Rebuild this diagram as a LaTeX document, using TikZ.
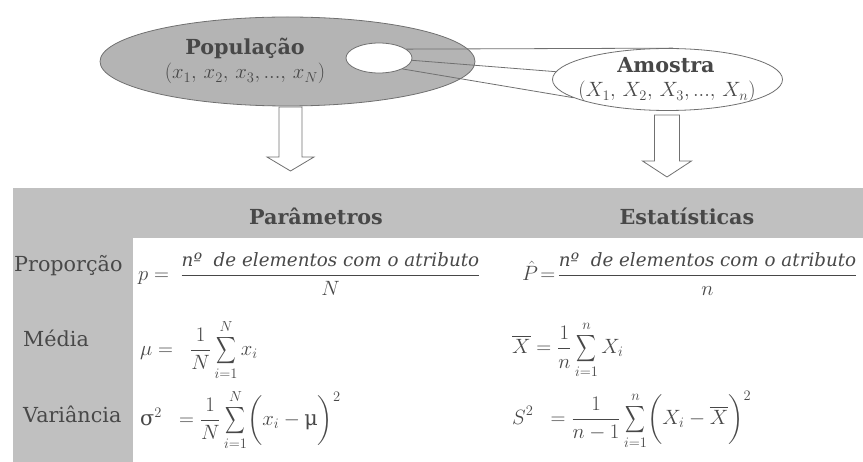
\RequirePackage{fix-cm}
\documentclass[tikz,border=0pt]{standalone}
\usepackage{amsmath}
\usepackage{exscale}
\usepackage{graphicx}
\usepackage{fontspec}
\setmainfont{DejaVu Serif}
\usetikzlibrary{shapes.geometric}
\definecolor{popfill}{RGB}{180,180,180}
\definecolor{tabfill}{RGB}{192,192,192}
\definecolor{ink}{RGB}{72,72,72}
\definecolor{edge}{RGB}{112,112,112}
\newcommand{\numtext}{\mbox{\fontsize{18.3}{22}\selectfont\itshape nº\ \ de elementos com o atributo}}
\newcommand{\bsum}{\mathop{\vcenter{\hbox{\scalebox{0.66}[0.9]{$\displaystyle\sum$}}}}\limits}
\begin{document}
\begin{tikzpicture}[x=1pt,y=-1pt,
  every node/.style={text=ink, font=\fontsize{20.7}{25}\selectfont, inner sep=0pt},
  ell/.style={ellipse, draw=edge, line width=0.8pt, inner sep=0pt},
  conn/.style={draw=edge, line width=0.8pt},
  blockarr/.style={draw=edge, fill=white, line width=0.8pt, line join=miter},
  title/.style={font=\fontsize{20.7}{25}\selectfont\bfseries, anchor=base},
  rowlabel/.style={anchor=base west},
  formula/.style={anchor=west}]
\useasboundingbox (0,0) rectangle (863,462);
% table background
\fill[tabfill] (13,188) rectangle (863,462);
\fill[white] (133,238) rectangle (863,462);
% ellipses
\node[ell, fill=popfill, minimum width=375pt, minimum height=89pt] (pop) at (287.5,61.5) {};
\node[ell, fill=white, minimum width=66pt, minimum height=30pt] (samp) at (379,58) {};
\node[ell, fill=white, minimum width=230pt, minimum height=62pt] (amo) at (667.5,79.5) {};
% connectors
\draw[conn] (samp.18) -- (amo.80);
\draw[conn] (samp.-4) -- (amo.176);
\draw[conn] (samp.-25) -- (amo.191);
% block arrows
\coordinate (a1) at (290.5,107);
\coordinate (a2) at (667,115);
\draw[blockarr] (a1) ++(-11.5,0) -- ++(0,50) -- ++(-12,0) -- ++(23.5,14) -- ++(23.5,-14) -- ++(-12,0) -- ++(0,-50) -- cycle;
\draw[blockarr] (a2) ++(-12.5,0) -- ++(0,46) -- ++(-12,0) -- ++(24.5,16) -- ++(24.5,-16) -- ++(-12,0) -- ++(0,-46) -- cycle;
% ellipse texts
\node[title] (poptitle) at (245,55) {População};
\node[anchor=base] (popset) at (245,79) {$(x_1,\, x_2,\, x_3,...,\, x_N)$};
\node[title] (amotitle) at (666,73) {Amostra};
\node[anchor=base] (amoset) at (667,97) {$(X_1,\, X_2,\, X_3,...,\, X_n)$};
% headers
\node[title] (hpar) at (316,225) {Parâmetros};
\node[title] (hest) at (687,225) {Estatísticas};
% row labels
\node[rowlabel] (lprop) at (14,272) {Proporção};
\node[rowlabel] (lmed) at (23,347) {Média};
\node[rowlabel] (lvar) at (23,423) {Variância};
% formulas
\node[formula] (f1l) at (138,274) {$\displaystyle p = \;\frac{\numtext}{N}$};
\node[formula] (f1r) at (522,274) {$\displaystyle \hat{P}\!=\!\frac{\numtext}{n}$};
\node[formula] (f2l) at (140,350) {$\displaystyle \mu = \;\;\frac{1}{N}\bsum_{i=1}^{N} x_i$};
\node[formula] (f2r) at (512,350) {$\displaystyle \overline{X} = \frac{1}{n}\bsum_{i=1}^{n} X_i$};
\node[formula] (f3l) at (140,420) {$\displaystyle \mbox{σ}^2\;\; = \frac{1}{N}\bsum_{i=1}^{N}\biggl(x_i - \mbox{μ}\biggr)^2$};
\node[formula] (f3r) at (512,420) {$\displaystyle S^2\;\; = \frac{1}{n-1}\bsum_{i=1}^{n}\biggl(X_i - \overline{X}\biggr)^2$};
\end{tikzpicture}
\end{document}
